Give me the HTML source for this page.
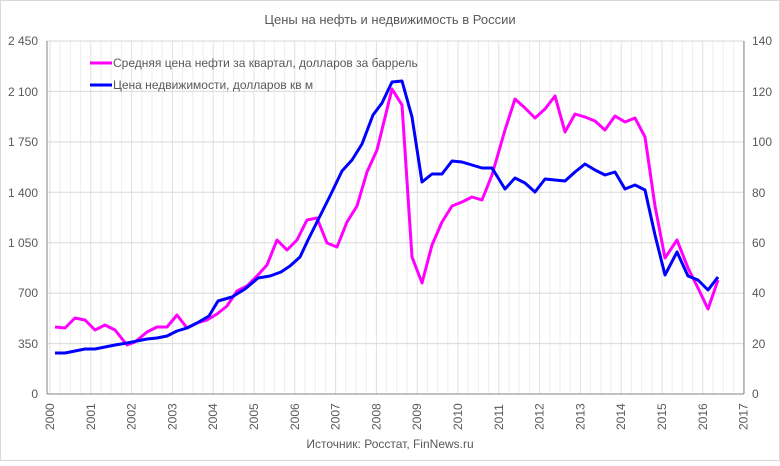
<!DOCTYPE html><html><head><meta charset="utf-8"><style>body{margin:0;background:#fff}svg text{font-family:"Liberation Sans",sans-serif;fill:#595959}</style></head><body>
<svg width="780" height="461" xmlns="http://www.w3.org/2000/svg">
<rect x="0.5" y="0.5" width="779" height="460" fill="#fff" stroke="#d9d9d9"/>
<text x="390" y="24" font-size="13" text-anchor="middle">Цены на нефть и недвижимость  в России</text>
<g id="minor" stroke="#eeeeee" stroke-width="1"></g>
<g stroke="#d9d9d9" stroke-width="1">
<line x1="47" y1="41" x2="744" y2="41"/><line x1="47" y1="91.4" x2="744" y2="91.4"/><line x1="47" y1="141.9" x2="744" y2="141.9"/><line x1="47" y1="192.3" x2="744" y2="192.3"/><line x1="47" y1="242.7" x2="744" y2="242.7"/><line x1="47" y1="293.1" x2="744" y2="293.1"/><line x1="47" y1="343.6" x2="744" y2="343.6"/>
</g>
<g stroke="#868686" stroke-width="1"><line x1="47" y1="41" x2="47" y2="394"/><line x1="744" y1="41" x2="744" y2="394"/><line x1="47" y1="394" x2="744" y2="394"/></g>
<g font-size="12" text-anchor="end">
<text x="38" y="45">2 450</text><text x="38" y="96">2 100</text><text x="38" y="146">1 750</text><text x="38" y="197">1 400</text><text x="38" y="247">1 050</text><text x="38" y="297">700</text><text x="38" y="348">350</text><text x="38" y="398">0</text>
</g>
<g font-size="12">
<text x="752" y="45">140</text><text x="752" y="96">120</text><text x="752" y="146">100</text><text x="752" y="197">80</text><text x="752" y="247">60</text><text x="752" y="297">40</text><text x="752" y="348">20</text><text x="752" y="398">0</text>
</g>
<g id="years" font-size="12"></g>
<polyline fill="none" stroke="#ff00ff" stroke-width="3" stroke-linejoin="round" points="55,327 65,328 75,318 85,320 95,330 105,325 115,330 127,345 135,342 147,332 157,327 167,327 177,315 187,328 197,323 207,320 217,314 227,306 237,291 247,286 257,276 267,265 277,240 287,250 297,240 307,220 317,218 327,243 337,247 347,222 357,206 367,172 377,150 392,89 402,105 412,257 422,283 432,245 442,222 452,206 462,202 472,197 482,200 492,175 505,130 515,99 525,108 535,118 545,109 555,96 565,132 575,114 585,117 595,121 605,130 615,116 625,122 635,118 645,137 655,206 665,258 677,240 688,268 698,288 708,309 718,280"/>
<polyline fill="none" stroke="#0000ff" stroke-width="3" stroke-linejoin="round" points="55,353 65,353 75,351 85,349 95,349 105,347 115,345 127,343 137,341 147,339 157,338 167,336 177,331 187,328 197,323 209,316 218,301 232,297 245,289 258,278 270,276 281,272 290,266 300,257 308,240 318,220 330,196 342,171 352,160 362,144 373,115 382,103 392,82 402,81 412,117 422,182 432,174 442,174 452,161 462,162 472,165 482,168 492,168 505,189 515,178 525,183 535,192 545,179 555,180 565,181 575,172 585,164 595,170 605,175 615,172 625,189 635,185 645,190 655,235 665,275 677,252 688,276 698,280 708,290 718,277"/>
<line x1="90" y1="63" x2="112" y2="63" stroke="#ff00ff" stroke-width="3"/>
<text x="113" y="67" font-size="12">Средняя цена нефти за квартал, долларов за баррель</text>
<line x1="90" y1="85" x2="112" y2="85" stroke="#0000ff" stroke-width="3"/>
<text x="113" y="89" font-size="12">Цена недвижимости, долларов кв м</text>
<text x="390" y="448" font-size="12" text-anchor="middle">Источник: Росстат, FinNews.ru</text>
</svg>
<script>
var ns="http://www.w3.org/2000/svg",m=document.getElementById("minor"),y=document.getElementById("years");
for(var i=0;i<=68;i++){var x=50+i*40.8/4;var l=document.createElementNS(ns,"line");l.setAttribute("x1",x);l.setAttribute("x2",x);l.setAttribute("y1",41);l.setAttribute("y2",394);if(i%4==0)l.setAttribute("stroke","#e0e0e0");m.appendChild(l);}
for(var k=0;k<=17;k++){var x=50+k*40.8+4;var t=document.createElementNS(ns,"text");t.setAttribute("transform","translate("+x+",430) rotate(-90)");t.textContent=2000+k;y.appendChild(t);}
</script>
</body></html>
